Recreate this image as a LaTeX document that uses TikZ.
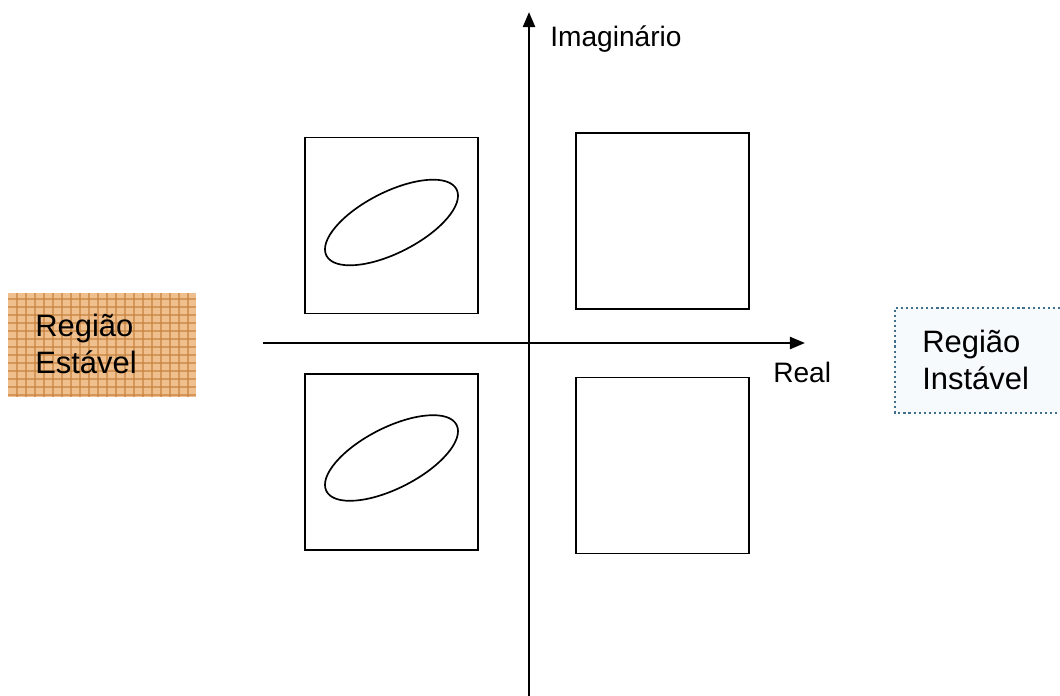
\documentclass[tikz,border=0pt]{standalone}
\usepackage{fontspec}
\setmainfont{Liberation Sans}
\usepackage{xcolor}
\usetikzlibrary{shapes.geometric, arrows.meta, positioning, calc}

\definecolor{gridorange}{HTML}{F0BF8E}
\definecolor{gridline}{HTML}{C98643}
\definecolor{dotblue}{HTML}{3F6F8C}
\definecolor{palefill}{HTML}{F6FAFD}

\begin{document}
\begin{tikzpicture}[x=0.025cm, y=-0.025cm]

\tikzset{
    axis/.style={line width=1.9pt, -{Triangle[length=0.38cm, width=0.3cm]}},
    quadbox/.style={rectangle, draw, line width=1.2pt, minimum width=4.325cm, minimum height=4.4cm, inner sep=0pt},
    polo/.style={ellipse, draw, line width=1.2pt, minimum width=3.65cm, minimum height=1.52cm, inner sep=0pt, rotate=27},
    axlabel/.style={font=\fontsize{20}{24}\selectfont, anchor=base west, inner sep=0pt},
    legend/.style={rectangle, inner sep=0pt, align=left, anchor=north west,
                   font=\fontsize{22}{26.5}\selectfont}
}

\useasboundingbox (0,0) rectangle (1060,696);

% ── eixos ──
\coordinate (ybot) at (529,696);
\coordinate (ytop) at (529,12);
\coordinate (xleft) at (263,343);
\coordinate (xright) at (805,343);
\draw[axis] (ybot) -- (ytop);
\draw[axis] (xleft) -- (xright);
\node[axlabel] (im) at (550,47) {Imaginário};
\node[axlabel] (re) at (773,382) {Real};

% ── quadrantes ──
\node[quadbox] (Q2) at (391.5,225.5) {};
\node[quadbox] (Q1) at (662.5,221) {};
\node[quadbox] (Q3) at (391.5,462) {};
\node[quadbox] (Q4) at (662.5,465.5) {};

% ── polos ──
\node[polo] (P1) at (391.5,222.5) {};
\node[polo] (P2) at (391.5,458) {};

% ── regiao estavel ──
\fill[gridorange] (8,293) rectangle (196,397);
\begin{scope}
  \clip (8,293) rectangle (196,397);
  \foreach \gx in {17,26,...,196}
    \draw[gridline, line width=1pt, opacity=0.7] (\gx,293) -- (\gx,397);
  \foreach \gy in {299,307,...,397}
    \draw[gridline, line width=1pt, opacity=0.7] (8,\gy) -- (196,\gy);
\end{scope}
\node[legend] (est) at (35,314) {Região\\Estável};

% ── regiao instavel ──
\fill[palefill] (895,308) rectangle (1060,413);
\draw[dotblue, line width=1.4pt, dash pattern=on 1.5pt off 2.1pt] (1060,308) -- (895,308) -- (895,413) -- (1060,413);
\node[legend] (ins) at (922,330) {Região\\Instável};

\end{tikzpicture}
\end{document}
